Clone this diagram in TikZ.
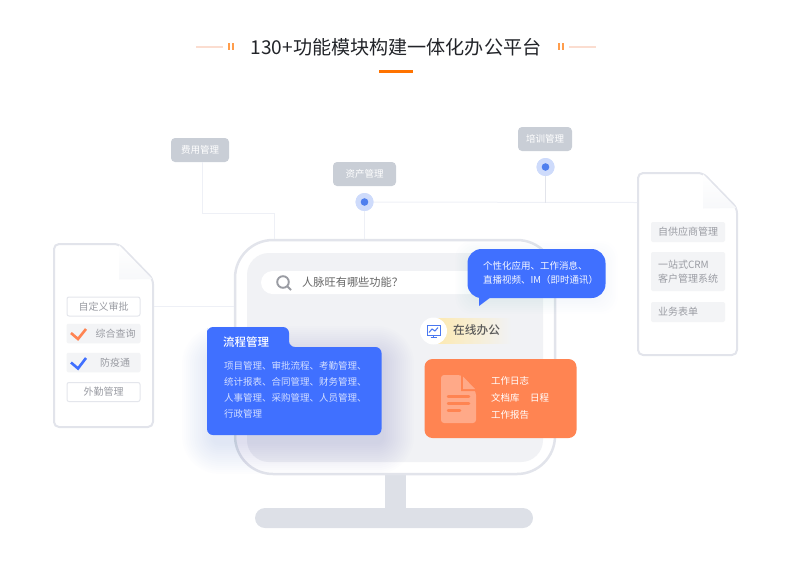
\documentclass[tikz,border=0pt]{standalone}
\usepackage{fontspec}
\setmainfont{Noto Sans CJK SC}
\newfontfamily\cjkmed{Noto Sans CJK SC Medium}
\usetikzlibrary{calc}
\definecolor{cardblue}{HTML}{4070FF}
\definecolor{cardorange}{HTML}{FF8452}
\definecolor{docorange}{HTML}{FFA988}
\definecolor{framegray}{HTML}{E2E4EB}
\definecolor{innergray}{HTML}{F1F2F5}
\definecolor{standgray}{HTML}{DDE0E7}
\definecolor{taggray}{HTML}{C9CED6}
\definecolor{linegray}{HTML}{EEF0F6}
\definecolor{halo}{HTML}{CEDBFB}
\definecolor{dotblue}{HTML}{4F7FEE}
\definecolor{itemgray}{HTML}{F3F4F6}
\definecolor{itemline}{HTML}{E4E6EC}
\definecolor{itemtext}{HTML}{9A9CA3}
\definecolor{softtext}{HTML}{D3DEFF}
\definecolor{titleink}{HTML}{222429}
\definecolor{accent}{HTML}{FF7300}
\definecolor{paleaccent}{HTML}{FBDDD0}
\definecolor{shadowblue}{HTML}{5A7FC8}
\definecolor{paleyellow}{HTML}{FDE9AF}
\definecolor{iconblue}{HTML}{4A78F0}
\definecolor{foldshade}{HTML}{F7F8FA}
\tikzset{
 tagbox/.style={fill=taggray,rounded corners=4,text=white,font=\fontsize{9.5}{11}\selectfont,inner sep=0,minimum height=24},
 dothalo/.style={circle,fill=halo,minimum size=18,inner sep=0},
 wire/.style={draw=linegray,line width=1},
 docpage/.style={draw=framegray,line width=2,fill=white,rounded corners=5},
 itemplain/.style={draw=itemline,line width=1,fill=white,rounded corners=2,text=itemtext,font=\fontsize{10}{14}\selectfont,inner sep=0,minimum width=73,minimum height=19},
 itemfill/.style={fill=itemgray,rounded corners=2,text=itemtext,font=\fontsize{10}{14}\selectfont,inner sep=0,minimum width=74,minimum height=19.5},
 softlines/.style={text=softtext,font=\fontsize{9.5}{16}\selectfont,align=left,inner sep=0,anchor=west},
}
\begin{document}
\begin{tikzpicture}[x=1pt,y=-1pt]
\useasboundingbox (0,0) rectangle (786,563);
% title
\node[text=titleink,font=\fontsize{19.1}{22}\selectfont,inner sep=0] (title) at (396,47) {130+功能模块构建一体化办公平台};
\fill[accent] (379,70) rectangle (413,73);
\fill[paleaccent] (196,46) rectangle (223,47.5);
\fill[paleaccent] (569,46) rectangle (596,47.5);
\fill[accent!70] (228,43) rectangle (229.5,50);
\fill[accent!70] (232,43) rectangle (233.5,50);
\fill[accent!70] (558,43) rectangle (559.5,50);
\fill[accent!70] (562,43) rectangle (563.5,50);
% monitor stand
\fill[standgray] (385,470) rectangle (406,512);
\node[fill=standgray,rounded corners=10,minimum width=278,minimum height=20,inner sep=0] (base) at (394,518) {};
% nodes of the top
\node[tagbox,minimum width=58] (fee) at (200,150) {费用管理};
\node[tagbox,minimum width=63] (asset) at (364.5,174) {资产管理};
\node[tagbox,minimum width=54] (train) at (545,139) {培训管理};
\node[dothalo] (assetdot) at (364.5,202) {};
\node[dothalo] (traindot) at (545.5,167) {};
% monitor
\node[draw=framegray,line width=2.5,fill=white,rounded corners=38,minimum width=320,minimum height=234,inner sep=0] (screen) at (395,357) {};
\node[fill=innergray,rounded corners=22,minimum width=296,minimum height=209,inner sep=0] (panel) at (395,357.5) {};
% documents
\path[docpage] (54,244) -- (119,244) -- (153,279) -- (153,427) -- (54,427) -- cycle;
\path[docpage] (638,173) -- (703,173) -- (737,208) -- (737,355) -- (638,355) -- cycle;
\coordinate (leftdoc) at (154,306);
\coordinate (rightdoc) at (637,202.5);
\shade[top color=white,bottom color=foldshade] (119,245) -- (152,279) -- (119,279.5) -- cycle;
\shade[top color=white,bottom color=foldshade] (703,174) -- (736,208) -- (703,208.5) -- cycle;
% connectors
\coordinate (screenfee) at (274,239);
\coordinate (screenasset) at (364.5,239);
\coordinate (screenleft) at (234,306);
\coordinate (busjoin) at (545.5,202.5);
\draw[wire] (fee.south) ++(2,0) |- (screenfee |- 0,213) -- (screenfee);
\draw[wire] (assetdot) -- (screenasset);
\draw[wire] (assetdot) -- (rightdoc);
\draw[draw=framegray,line width=0.9] (traindot) -- (busjoin);
\draw[wire] (leftdoc) -- (screenleft);
\fill[halo] (assetdot) circle (9);
\fill[halo] (traindot) circle (9);
\fill[dotblue] (assetdot) circle (3.8);
\fill[dotblue] (traindot) circle (3.8);
% left document items
\node[itemplain] (custom) at (103.5,306.5) {自定义审批};
\node[itemfill] (query) at (103.5,333.5) {};
\node[text=itemtext,font=\fontsize{10}{14}\selectfont,inner sep=0] (querytext) at (115.5,333.5) {综合查询};
\node[itemfill] (epidemic) at (103.5,362.5) {};
\node[text=itemtext,font=\fontsize{10}{14}\selectfont,inner sep=0] (epidemictext) at (115,362.5) {防疫通};
\node[itemplain] (field) at (103.5,392) {外勤管理};
\draw[cardorange,line width=2.6] (71,333) -- (78,339) -- (86,329);
\draw[cardblue,line width=2.6] (71,362.5) -- (78,368.5) -- (86,358);
% right document items
\node[itemfill,minimum width=74,minimum height=20] (supplier) at (688,232) {自供应商管理};
\node[itemfill,minimum width=74,minimum height=39,align=left] (crm) at (688,271.5) {一站式CRM\\客户管理系统};
\node[itemfill,minimum width=74,minimum height=20,text width=60] (forms) at (688,312) {业务表单};
% search bar
\node[fill=white,rounded corners=11.5,minimum width=225,minimum height=23,inner sep=0] (search) at (373.5,282.5) {};
\draw[itemtext,line width=1.9] (283,282) circle (5.8);
\draw[itemtext,line width=1.9] (287.5,286.5) -- (291,290);
\node[text=black!60,font=\fontsize{11.2}{14}\selectfont,inner sep=0,anchor=west] (searchtext) at (302,282.5) {人脉旺有哪些功能？};
% online office
\shade[left color=paleyellow,right color=innergray] (433,318) rectangle (511,343);
\node[circle,fill=white,minimum size=27,inner sep=0] (onlineicon) at (433.5,331) {};
\draw[iconblue,line width=1] (427,325.5) rectangle (440,335);
\draw[iconblue,line width=1] (429,332.5) -- (432,329) -- (435,331) -- (438,327.5);
\draw[iconblue,line width=1] (433.5,335) -- (433.5,337) (430.5,337.5) -- (436.5,337.5);
\node[text=black!65,font=\cjkmed\fontsize{11.7}{14}\selectfont,inner sep=0,anchor=west] (onlinetext) at (453,330) {在线办公};
% orange card
\node[fill=cardorange,rounded corners=8,minimum width=152,minimum height=79,inner sep=0] (orangecard) at (500.5,398.5) {};
\fill[docorange,rounded corners=3] (441,375) -- (461,375) -- (476,392) -- (476,423) -- (441,423) -- cycle;
\fill[cardorange] (461,375) -- (461,391) -- (476,391) -- (476,389) -- (463,389) -- (463,376.5) -- cycle;
\fill[docorange] (463,376.5) -- (463,389) -- (475,389) -- cycle;
\draw[cardorange,line width=2.5,line cap=round] (448,396.5) -- (469,396.5) (448,403.5) -- (469,403.5) (448,410.5) -- (460,410.5);
\node[text=white,font=\fontsize{9.5}{17}\selectfont,align=left,inner sep=0,anchor=west] (orangetext) at (491,398) {工作日志\\文档库\hspace{10.5pt}日程\\工作报告};
% blue card shadow
\foreach \i in {0,2,...,30} {
  \fill[shadowblue,opacity=0.012,rounded corners={(\i+8)*1pt}] ($(212,356)+(-\i,-\i)$) rectangle ($(384,444)+(\i,\i)$);
}
% blue card
\fill[cardblue,rounded corners=6] (207,334) -- (207,327) -- (289,327) -- (289,347) -- (381.5,347) -- (381.5,435) -- (207,435) -- cycle;
\fill[cardblue] (280,340) rectangle (289,350);
\node[text=white,font=\cjkmed\fontsize{11.5}{14}\selectfont,inner sep=0,anchor=west] (cardtitle) at (223,342.5) {流程管理};
\node[softlines] (cardtext) at (224,390) {项目管理、审批流程、考勤管理、\\统计报表、合同管理、财务管理、\\人事管理、采购管理、人员管理、\\行政管理};
% bubble
\foreach \i in {0,2,...,12} {
  \fill[shadowblue,opacity=0.008,rounded corners=16] ($(467.5,253)+(-\i,-\i)$) rectangle ($(605.5,302)+(\i,\i)$);
}
\fill[cardblue] (479,294) -- (479,306) -- (491,297) -- cycle;
\node[fill=cardblue,rounded corners=14,minimum width=138,minimum height=49,inner sep=0] (bubble) at (536.5,273.5) {};
\node[text=white!95!cardblue,font=\fontsize{9.5}{14.5}\selectfont,align=left,inner sep=0,anchor=west] (bubbletext) at (483,273) {个性化应用、工作消息、\\直播视频、IM（即时通讯）};
\end{tikzpicture}
\end{document}
